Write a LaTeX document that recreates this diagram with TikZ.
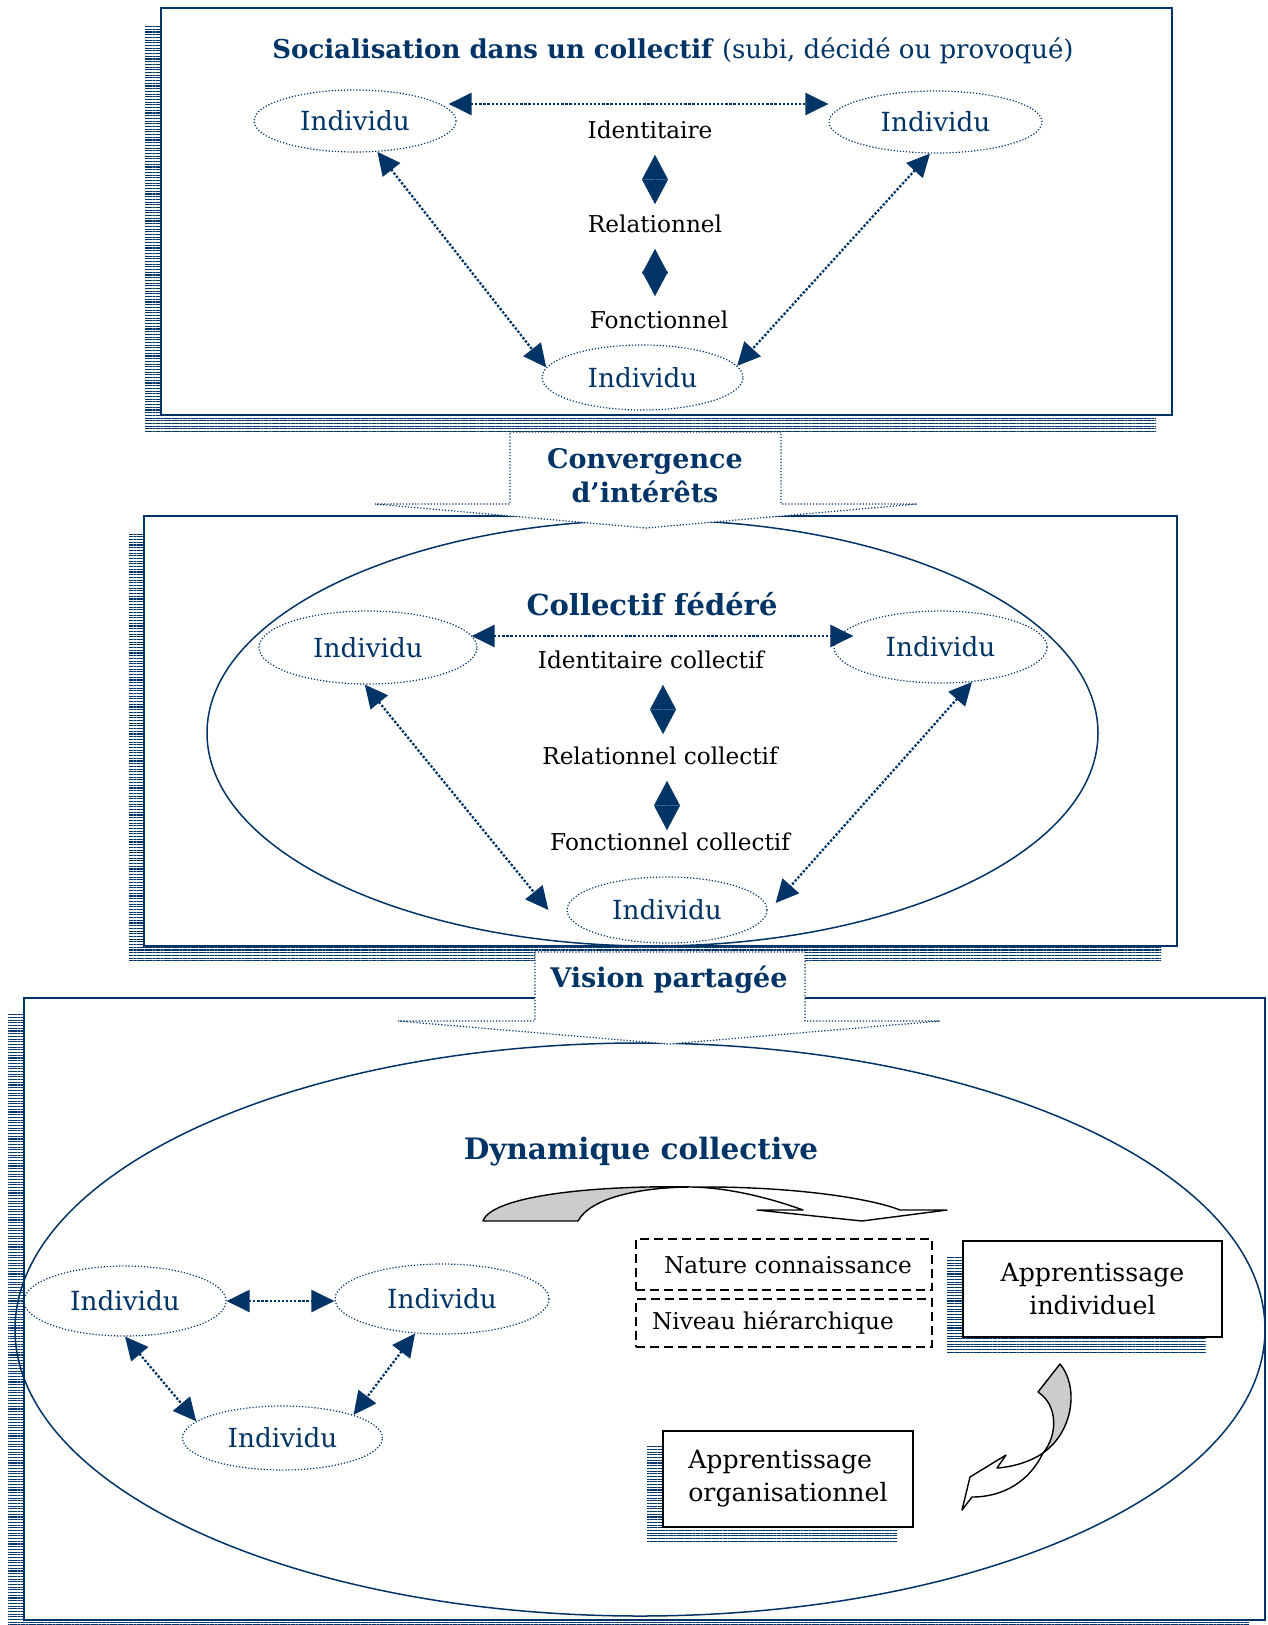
\documentclass[tikz,border=0pt]{standalone}
\usepackage{fontspec}
\setmainfont{DejaVu Serif}
\usetikzlibrary{shapes.geometric,arrows.meta,patterns.meta}
\definecolor{dnavy}{HTML}{003366}
\definecolor{gfill}{gray}{0.8}
\tikzset{
  shadowfill/.style={pattern={Lines[angle=0,distance=2.7pt,line width=1.1pt]}, pattern color=dnavy},
  frame/.style={draw=dnavy, fill=white, line width=1.6pt},
  bigell/.style={draw=dnavy, line width=1.5pt},
  indiv/.style={ellipse, draw=dnavy, line width=1.2pt, dash pattern=on 1.2pt off 1.9pt, text=dnavy, font=\fontsize{26.3}{30}\selectfont, inner sep=0pt},
  biarr/.style={draw=dnavy, line width=2.3pt, dash pattern=on 2.3pt off 1.8pt, {Triangle[length=23pt,width=22pt]}-{Triangle[length=23pt,width=22pt]}},
  diam/.style={draw=dnavy, line width=0.2pt, {Triangle[length=24.5pt,width=26pt]}-{Triangle[length=24.5pt,width=26pt]}},
  lab/.style={text=black, font=\fontsize{23.2}{27}\selectfont, inner sep=0pt},
  ttl/.style={text=dnavy, font=\bfseries\fontsize{27}{34}\selectfont, inner sep=0pt},
  callout/.style={draw=dnavy, fill=white, line width=1.2pt, dash pattern=on 1.2pt off 1.9pt},
  dbox/.style={draw=black, line width=1.3pt, dash pattern=on 9pt off 5pt},
  abox/.style={draw=black, fill=white, line width=1.5pt, inner sep=0pt, font=\fontsize{25.2}{33}\selectfont},
  curv/.style={draw=black, line width=1.4pt, line join=round},
}
\begin{document}
\begin{tikzpicture}[x=1pt,y=-1pt]
\useasboundingbox (0,0) rectangle (1267,1625);
% ---------- frames ----------
\fill[shadowfill] (145,24) rectangle (1156,431);
\draw[frame, line width=2pt] (161,8) rectangle (1172,415);
\fill[shadowfill] (129,532) rectangle (1161,962);
\draw[frame] (144,516) rectangle (1177,946);
\draw[bigell] (652.5,733) ellipse [x radius=445.5, y radius=213];
\fill[shadowfill] (8,1014) rectangle (1249,1636);
\draw[frame] (24,998) rectangle (1265,1620);
\draw[bigell] (640,1329.5) ellipse [x radius=625, y radius=286.5];
% ---------- callouts ----------
\draw[callout] (510,432) -- (781,432) -- (781,504) -- (917,504) -- (646,528) -- (375,504) -- (510,504) -- cycle;
\node[ttl, align=center] (conv) at (645,476) {Convergence\\d’intérêts};
\draw[callout] (535,952) -- (805,952) -- (805,1021) -- (940,1021) -- (669,1044) -- (398,1021) -- (535,1021) -- cycle;
\node[ttl] (vision) at (669,980) {Vision partagée};
% ---------- section 1 ----------
\node[text=dnavy, font=\fontsize{26}{30}\selectfont, inner sep=0pt] (title1) at (673,51) {\textbf{Socialisation dans un collectif} (subi, décidé ou provoqué)};
\node[indiv, minimum width=202pt, minimum height=62pt] (L1) at (355,121) {Individu};
\node[indiv, minimum width=213pt, minimum height=62pt] (R1) at (935.5,122) {Individu};
\node[indiv, minimum width=201pt, minimum height=65pt] (B1) at (642.5,377.5) {Individu};
\node[lab] (id1) at (650,130) {Identitaire};
\node[lab] (re1) at (655,224) {Relationnel};
\node[lab] (fo1) at (659,320) {Fonctionnel};
\draw[biarr] ([shift={(-8pt,17pt)}]L1.east) -- ([yshift=17pt]L1.east -| R1.west);
\draw[biarr] (L1.-54) -- (B1.174);
\draw[biarr] (R1.-100) -- (B1.7);
\draw[diam] ([yshift=-25pt]re1.center |- id1.center) -- ([yshift=20pt]re1.center);
\draw[diam] ([yshift=-25pt]re1.center) -- ([yshift=24pt]re1.center |- fo1.center);
% ---------- section 2 ----------
\node[ttl, font=\bfseries\fontsize{29}{34}\selectfont] (title2) at (652,604) {Collectif fédéré};
\node[indiv, minimum width=218pt, minimum height=73pt] (L2) at (368,647.5) {Individu};
\node[indiv, minimum width=213pt, minimum height=72pt] (R2) at (940.5,647) {Individu};
\node[indiv, minimum width=200pt, minimum height=66pt] (B2) at (667,910) {Individu};
\node[lab] (id2) at (651,660) {Identitaire collectif};
\node[lab] (re2) at (660,756) {Relationnel collectif};
\node[lab] (fo2) at (670,842) {Fonctionnel collectif};
\draw[biarr] ([shift={(-6pt,11.5pt)}]L2.east) -- ([shift={(20pt,11.5pt)}]L2.east -| R2.west);
\draw[biarr] (L2.-95) -- ([xshift=-18pt]B2.west);
\draw[biarr] (R2.-48) -- ([shift={(8pt,7pt)}]B2.east);
\draw[diam] ([shift={(12pt,-25pt)}]id2.center) -- ([shift={(12pt,-74pt)}]id2.center);
\draw[diam] ([shift={(7pt,-25pt)}]re2.center) -- ([shift={(7pt,-74pt)}]re2.center);
% ---------- section 3 ----------
\node[ttl, font=\bfseries\fontsize{29.5}{34}\selectfont] (title3) at (641,1152) {Dynamique collective};
\node[indiv, minimum width=202pt, minimum height=70pt] (L3) at (125,1301) {Individu};
\node[indiv, minimum width=214pt, minimum height=70pt] (R3) at (442,1299) {Individu};
\node[indiv, minimum width=200pt, minimum height=64pt] (B3) at (282.5,1438) {Individu};
\draw[biarr] (L3.east) -- (L3.east -| R3.west);
\draw[biarr] (L3.south) -- (B3.169);
\draw[biarr] (R3.-128) -- (B3.18);
% dashed boxes
\node[dbox, minimum width=296pt, minimum height=51pt, inner sep=0pt] (nat) at (784,1264.5) {};
\node[lab] (natt) at (788,1265) {Nature connaissance};
\node[dbox, minimum width=296pt, minimum height=48pt, inner sep=0pt] (niv) at (784,1323) {};
\node[lab] (nivt) at (773,1323) {Niveau hiérarchique};
% apprentissage boxes
\fill[shadowfill] (947,1256) rectangle (1206,1352);
\node[abox, minimum width=259pt, minimum height=96pt, align=center] (ai) at (1092.5,1289) {Apprentissage\\individuel};
\fill[shadowfill] (647,1446) rectangle (897,1542);
\node[abox, minimum width=250pt, minimum height=96pt, align=left] (ao) at (788,1479) {Apprentissage\\organisationnel};
% curved arrow (top)
\filldraw[curv, fill=gfill] (483,1221) .. controls (492,1195) and (600,1185) .. (693,1187)
   .. controls (640,1187) and (590,1198) .. (578,1221) -- cycle;
\filldraw[curv, fill=white] (693,1187) .. controls (790,1186) and (870,1198) .. (900,1210)
   -- (947,1210) -- (862,1221) -- (757,1210) -- (803,1210)
   .. controls (770,1198) and (730,1188) .. (693,1187) -- cycle;
% curved arrow (right)
\filldraw[curv, fill=gfill] (1060,1364) .. controls (1078,1385) and (1075,1430) .. (1043,1453)
   .. controls (1058,1435) and (1058,1405) .. (1038,1392) -- cycle;
\filldraw[curv, fill=white] (1043,1453) .. controls (1030,1462) and (1012,1467) .. (997,1468)
   -- (1006,1455) -- (970,1477) -- (962,1510) -- (972,1497)
   .. controls (1005,1497) and (1030,1480) .. (1043,1453) -- cycle;
\end{tikzpicture}
\end{document}
